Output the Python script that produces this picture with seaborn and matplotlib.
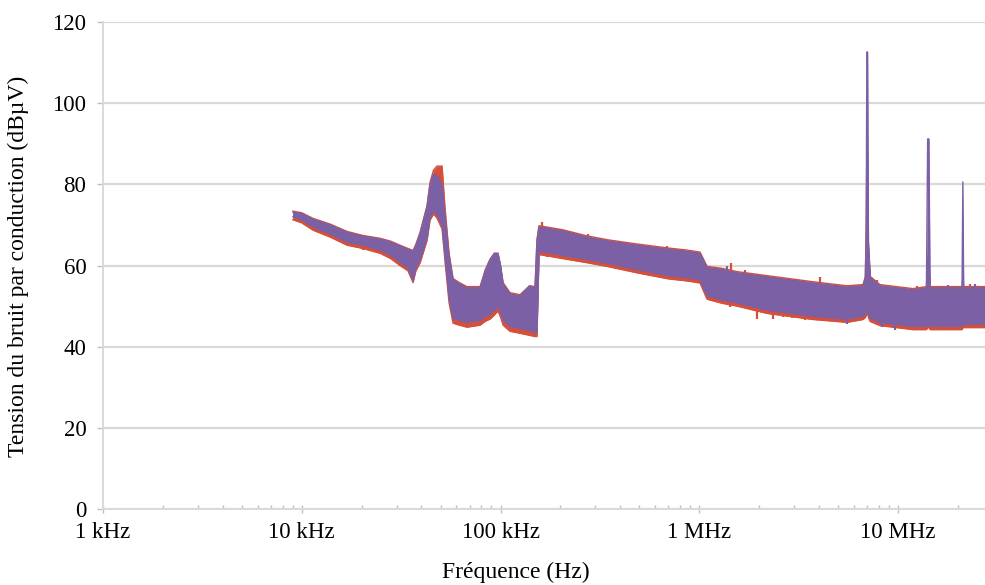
import numpy as np
import pandas as pd
import matplotlib
matplotlib.use("Agg")
import matplotlib.pyplot as plt
from matplotlib.ticker import FixedLocator, LogLocator, NullFormatter
import seaborn as sns

# ---------------- data ----------------
freq_hz = [9.0e3, 10.0e3, 11.4e3, 13.9e3, 16.9e3, 20.3e3, 24.8e3, 28.0e3, 31.2e3, 34.2e3,
           36.3e3, 37.5e3, 39.4e3, 42.7e3, 44.2e3, 46.0e3, 47.9e3, 50.8e3, 52.6e3, 55.1e3,
           57.7e3, 62.0e3, 67.8e3, 78.9e3, 84.0e3, 88.6e3, 93.0e3, 97.1e3, 100e3, 103e3,
           111.6e3, 125.3e3, 140e3, 149.2e3, 152.6e3, 156.2e3, 180e3, 206e3, 272e3, 350e3,
           486e3, 700e3, 868e3, 1.009e6, 1.094e6, 1.3e6, 1.549e6, 2.19e6, 3.73e6, 5.54e6,
           6.67e6, 6.85e6, 6.92e6, 6.97e6, 7.03e6, 7.10e6, 7.25e6, 8.11e6, 11.9e6, 13.9e6,
           14.1e6, 14.3e6, 14.5e6, 18.3e6, 21.0e6, 21.2e6, 21.4e6, 27.4e6]

# purple trace: lower / upper envelope (dBuV)
purple_low = [72.0, 71.3, 69.5, 67.8, 65.8, 65.0, 63.8, 62.5, 60.8, 59.5,
              56.2, 59.5, 61.5, 67.0, 72.0, 73.5, 72.5, 70.0, 62.0, 52.0,
              47.0, 46.5, 46.0, 46.5, 47.5, 48.0, 49.0, 50.0, 48.5, 46.5,
              45.0, 44.5, 44.0, 43.5, 43.5, 63.5, 63.0, 62.5, 61.5, 60.5,
              59.0, 57.5, 57.0, 56.5, 52.5, 51.5, 50.8, 49.0, 47.5, 46.8,
              47.5, 48.0, 48.5, 49.0, 49.0, 48.0, 47.0, 46.0, 45.0, 45.0,
              45.5, 45.5, 45.0, 45.0, 45.0, 45.5, 45.5, 45.5]
purple_high = [73.2, 72.8, 71.4, 70.0, 68.2, 67.2, 66.5, 65.8, 64.8, 64.0,
               63.5, 65.0, 68.0, 74.5, 80.0, 82.5, 82.0, 80.0, 72.0, 62.0,
               56.5, 55.5, 54.5, 54.5, 59.0, 61.5, 63.0, 63.0, 60.0, 55.5,
               53.0, 52.5, 55.0, 54.5, 66.0, 69.5, 69.0, 68.5, 67.0, 66.0,
               65.0, 64.0, 63.5, 63.0, 59.5, 59.0, 58.2, 57.2, 55.7, 54.7,
               55.0, 57.0, 69.0, 112.6, 112.6, 65.0, 57.0, 55.0, 54.0, 54.5,
               91.2, 91.2, 54.5, 54.5, 54.5, 80.6, 54.5, 54.5]

# red trace: lower / upper envelope (dBuV)
red_low = [71.3, 70.5, 68.7, 67.0, 65.0, 64.2, 63.0, 61.7, 60.0, 58.7,
           55.8, 58.7, 60.7, 66.2, 71.2, 72.7, 71.7, 69.0, 61.0, 50.8,
           45.8, 45.3, 44.8, 45.3, 46.3, 46.8, 47.8, 48.8, 47.3, 45.3,
           43.8, 43.3, 42.8, 42.5, 42.5, 62.7, 62.2, 61.7, 60.7, 59.7,
           58.2, 56.7, 56.2, 55.7, 51.7, 50.7, 50.0, 48.2, 46.7, 46.0,
           46.7, 47.2, 47.7, 48.2, 48.2, 47.2, 46.2, 45.2, 44.2, 44.2,
           44.7, 44.7, 44.2, 44.2, 44.2, 44.7, 44.7, 44.7]
red_high = [73.4, 73.0, 71.6, 70.2, 68.4, 67.4, 66.7, 66.0, 65.0, 64.2,
            63.7, 65.2, 68.2, 74.8, 80.5, 83.5, 84.5, 84.5, 74.0, 63.0,
            56.8, 55.8, 54.8, 54.8, 59.0, 61.5, 63.0, 63.0, 60.0, 55.8,
            53.3, 52.8, 55.0, 54.8, 66.5, 69.8, 69.3, 68.8, 67.3, 66.3,
            65.3, 64.3, 63.8, 63.3, 59.8, 59.3, 58.5, 57.5, 56.0, 55.0,
            55.3, 57.3, 70.0, 87.7, 87.7, 66.0, 57.3, 55.3, 54.3, 54.8,
            62.0, 62.0, 54.8, 54.8, 54.8, 57.0, 54.8, 54.8]

# isolated noise excursions sticking out of the bands
red_spike_freq = [12.07e3, 16.1e3, 20.3e3, 26.2e3, 31.2e3, 171e3, 194.7e3, 272e3, 385.7e3,
                  503e3, 712e3, 930e3, 1.20e6, 1.428e6, 1.953e6, 2.35e6, 2.64e6, 2.93e6,
                  3.41e6, 4.82e6, 7.66e6, 9.3e6, 12.17e6, 16.65e6, 20.5e6, 24.97e6,
                  161.8e3, 275e3, 688e3, 1.44e6, 1.70e6, 4.05e6, 7.84e6, 12.46e6, 23.0e6]
red_spike_low = [68.5, 66.3, 63.8, 63.0, 59.8, 62.0, 61.8, 60.8, 59.5,
                 58.3, 56.8, 56.0, 51.5, 49.8, 46.8, 46.8, 47.2, 47.0,
                 46.5, 46.0, 46.5, 44.8, 44.5, 44.3, 44.3, 44.5,
                 68.0, 66.0, 63.0, 58.5, 57.0, 55.0, 54.5, 53.5, 54.0]
red_spike_high = [70.0, 67.5, 65.5, 64.5, 61.5, 63.5, 63.5, 62.5, 61.0,
                  60.0, 58.5, 57.5, 53.5, 51.5, 50.0, 49.0, 49.0, 48.5,
                  48.5, 48.0, 48.0, 46.5, 46.0, 46.0, 46.0, 46.0,
                  70.7, 67.8, 64.8, 60.5, 58.8, 57.2, 56.5, 55.0, 55.5]

purple_spike_freq = [1.38e6, 5.54e6, 8.31e6, 9.66e6, 17.85e6, 24.4e6]
purple_spike_low = [56.0, 45.5, 44.8, 44.1, 52.0, 52.0]
purple_spike_high = [59.8, 50.0, 48.0, 48.0, 55.2, 55.5]

y_ticks = [0, 20, 40, 60, 80, 100, 120]
x_ticks = [1e3, 1e4, 1e5, 1e6, 1e7]
x_tick_labels = ["1 kHz", "10 kHz", "100 kHz", "1 MHz", "10 MHz"]

# ---------------- styling ----------------
sns.set_theme(style="white")
plt.rcParams["font.family"] = ["Liberation Serif", "DejaVu Serif"]

RED = "#d4503a"
PURPLE = "#7b60a5"
GRID = "#d9d9d9"

fig = plt.figure(figsize=(9.85, 5.85), dpi=100)
ax = fig.add_axes([0.1046, 0.1299, 0.8954, 0.8325])

df = pd.DataFrame({"freq": freq_hz, "p_lo": purple_low, "p_hi": purple_high,
                   "r_lo": red_low, "r_hi": red_high})

# red trace (underneath)
ax.fill_between(df["freq"], df["r_lo"], df["r_hi"], color=RED, linewidth=0, zorder=2)
sns.lineplot(data=df, x="freq", y="r_lo", color=RED, lw=1.0, ax=ax, zorder=2, estimator=None)
sns.lineplot(data=df, x="freq", y="r_hi", color=RED, lw=1.0, ax=ax, zorder=2, estimator=None)
ax.vlines(red_spike_freq, red_spike_low, red_spike_high, color=RED, lw=1.6, zorder=2.5)

# purple trace on top
ax.fill_between(df["freq"], df["p_lo"], df["p_hi"], color=PURPLE, linewidth=0, zorder=3)
sns.lineplot(data=df, x="freq", y="p_lo", color=PURPLE, lw=1.0, ax=ax, zorder=3, estimator=None)
sns.lineplot(data=df, x="freq", y="p_hi", color=PURPLE, lw=1.0, ax=ax, zorder=3, estimator=None)
ax.vlines(purple_spike_freq, purple_spike_low, purple_spike_high, color=PURPLE, lw=1.6, zorder=3.5)

ax.set_xscale("log")
ax.set_xlim(1e3, 2.74e7)
ax.set_ylim(0, 120)

ax.set_yticks(y_ticks)
ax.set_yticklabels([str(v) for v in y_ticks])
ax.xaxis.set_major_locator(FixedLocator(x_ticks))
ax.set_xticklabels(x_tick_labels)
ax.xaxis.set_minor_locator(LogLocator(base=10, subs=np.arange(2, 10)))
ax.xaxis.set_minor_formatter(NullFormatter())

ax.grid(axis="y", color=GRID, linewidth=1.6, zorder=0)
ax.grid(axis="x", visible=False)
ax.set_axisbelow(True)

for side in ("top", "right"):
    ax.spines[side].set_visible(False)
for side in ("left", "bottom"):
    ax.spines[side].set_color(GRID)
    ax.spines[side].set_linewidth(1.4)

ax.tick_params(axis="y", which="major", direction="out", length=4, width=1,
               color="#bfbfbf", labelsize=16.5, pad=8, labelcolor="black", left=True)
ax.tick_params(axis="x", which="major", direction="inout", length=6, width=1,
               color="#bfbfbf", labelsize=16.5, pad=6, labelcolor="black", bottom=True)
ax.tick_params(axis="x", which="minor", direction="in", length=3, width=1,
               color="#bfbfbf", bottom=True)

ax.set_xlabel("Fréquence (Hz)", fontsize=17, color="black")
ax.set_ylabel("Tension du bruit par conduction (dBµV)", fontsize=17, color="black")
ax.xaxis.set_label_coords(0.468, -0.108)
ax.yaxis.set_label_coords(-0.0839, 0.498)

fig.savefig("out.png", dpi=100)
